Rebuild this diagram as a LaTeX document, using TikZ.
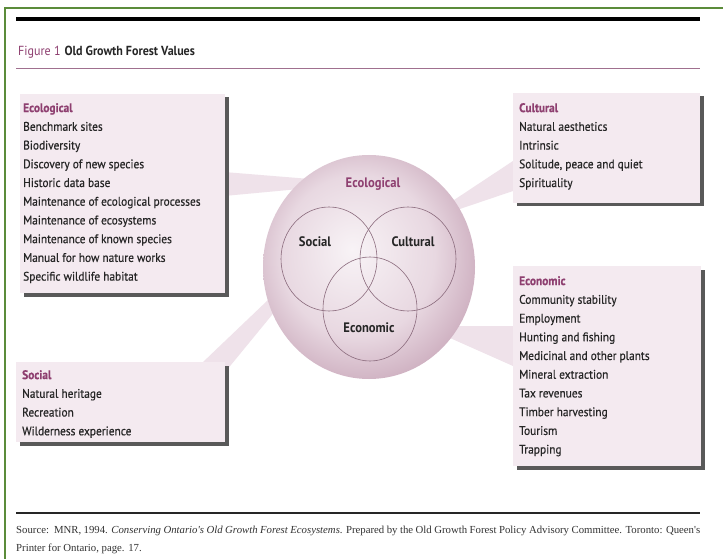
\documentclass[tikz,border=0pt]{standalone}
\usepackage{fontspec}
\setmainfont{PT Sans}[FakeStretch=0.915]
\newfontfamily\listfont{PT Sans}[FakeStretch=0.915, FakeBold=0.5]
\newfontfamily\srcfont{Liberation Serif}
\usetikzlibrary{calc}
\definecolor{frame}{HTML}{5B8C3A}
\definecolor{plum}{HTML}{8E3F70}
\definecolor{rule}{HTML}{A0708F}
\definecolor{boxfill}{HTML}{F4EAF0}
\definecolor{wedge}{HTML}{EFE2EA}
\definecolor{ink}{HTML}{262626}
\definecolor{ring}{HTML}{8A6A7C}
\definecolor{ballA}{HTML}{F8F3F6}
\definecolor{ballB}{HTML}{E8D8E1}
\definecolor{ballC}{HTML}{C9A8BA}
\pgfdeclareradialshading{ball}{\pgfpoint{-4bp}{4bp}}{color(0bp)=(ballA); color(18bp)=(ballB); color(30bp)=(ballC); color(50bp)=(ballC)}
\tikzset{
  valuebox/.style={draw=none, fill=boxfill, inner sep=0pt, anchor=north west},
  boxshadow/.style={fill=black!65},
  link/.style={fill=wedge, draw=none},
  listtext/.style={anchor=north west, align=left, inner sep=0pt, text=ink,
    font=\listfont\fontsize{12.5}{18.8}\selectfont},
  venn/.style={draw=ring, line width=0.6pt},
  vennlabel/.style={font=\bfseries\fontsize{13.8}{15}\selectfont, text=ink},
}
\newcommand{\hd}[1]{\textcolor{plum}{\bfseries #1}}
\begin{document}
\begin{tikzpicture}[x=1bp,y=-1bp]
\useasboundingbox (0,0) rectangle (723,559);
\fill[white] (0,0) rectangle (723,559);
% frame
\draw[frame, line width=2.5pt] (5,559) -- (5,8) -- (723,8);
% rules
\draw[black, line width=3.5pt] (16,19) -- (700,19);
\node[anchor=west, inner sep=0pt, font=\fontsize{13.2}{15}\selectfont] (title) at (18,52)
  {\textcolor{plum}{Figure 1}\hspace{4bp}\textcolor{ink}{\bfseries Old Growth Forest Values}};
\draw[rule, line width=1pt] (16,69) -- (700,69);
% box corners
\coordinate (ecoNW) at (20,94);
\coordinate (culNW) at (513,93);
\coordinate (econNW) at (513,266);
\coordinate (socNW) at (16,362);
\coordinate (ballc) at (369,267);
% wedges (connectors)
\fill[link] (224,172) -- (224,196) -- (310,188) -- (310,179) -- cycle;
\fill[link] (513,161) -- (513,191) -- (445,214) -- (445,206) -- cycle;
\fill[link] (513,326) -- (513,366) -- (450,338) -- (450,326) -- cycle;
\fill[link] (202,363) -- (226,371) -- (276,310) -- (268,300) -- cycle;
% shadows
\fill[boxshadow] ($(ecoNW)+(3.5,3.5)$) rectangle ++(205,199);
\fill[boxshadow] ($(culNW)+(3.5,3.5)$) rectangle ++(187,110);
\fill[boxshadow] ($(econNW)+(3.5,3.5)$) rectangle ++(188,200);
\fill[boxshadow] ($(socNW)+(3.5,3.5)$) rectangle ++(209,80);
\node[valuebox, minimum width=205bp, minimum height=199bp] (eco) at (ecoNW) {};
\node[valuebox, minimum width=187bp, minimum height=110bp] (cul) at (culNW) {};
\node[valuebox, minimum width=188bp, minimum height=200bp] (econ) at (econNW) {};
\node[valuebox, minimum width=209bp, minimum height=80bp] (soc) at (socNW) {};
% ball
\shade[shading=ball] (ballc) ellipse [x radius=106, y radius=112];
\draw[venn] (329,259) ellipse [x radius=48, y radius=52];
\draw[venn] (408,259) ellipse [x radius=48, y radius=52];
\draw[venn] (370,309) ellipse [x radius=47, y radius=52];
\node[font=\bfseries\fontsize{13.8}{15}\selectfont, text=plum] (lecol) at (373,184) {Ecological};
\node[vennlabel] (lsoc) at (315,242) {Social};
\node[vennlabel] (lcul) at (413,242) {Cultural};
\node[vennlabel] (lecon) at (369,328) {Economic};
% list texts
\node[listtext] (ecot) at ($(eco.north west)+(3,9)$) {\hd{Ecological}\\Benchmark sites\\Biodiversity\\Discovery of new species\\Historic data base\\Maintenance of ecological processes\\Maintenance of ecosystems\\Maintenance of known species\\Manual for how nature works\\Specific wildlife habitat};
\node[listtext] (cult) at ($(cul.north west)+(6,10)$) {\hd{Cultural}\\Natural aesthetics\\Intrinsic\\Solitude, peace and quiet\\Spirituality};
\node[listtext] (econt) at ($(econ.north west)+(6,10)$) {\hd{Economic}\\Community stability\\Employment\\Hunting and fishing\\Medicinal and other plants\\Mineral extraction\\Tax revenues\\Timber harvesting\\Tourism\\Trapping};
\node[listtext] (soct) at ($(soc.north west)+(6,8)$) {\hd{Social}\\Natural heritage\\Recreation\\Wilderness experience};
% source
\draw[black!85, line width=2pt] (16,513) -- (700,513);
\node[anchor=north west, inner sep=0pt, align=left, text=black!80, font=\srcfont\fontsize{10.8}{17.5}\selectfont] (src) at (16,526)
  {\makebox[684bp][s]{Source:\ \ MNR, 1994. \textit{Conserving Ontario's Old Growth Forest Ecosystems}. Prepared by the Old Growth Forest Policy Advisory Committee. Toronto: Queen's}\\Printer for Ontario, page. 17.};
\end{tikzpicture}
\end{document}
